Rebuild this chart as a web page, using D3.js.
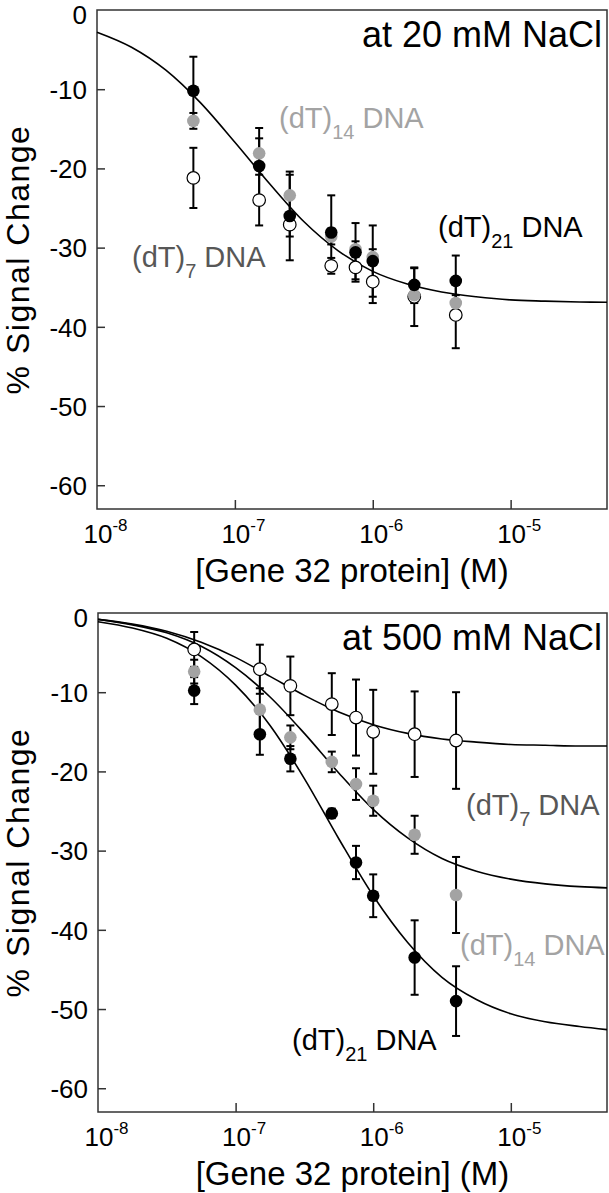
<!DOCTYPE html>
<html><head><meta charset="utf-8">
<script src="https://cdn.jsdelivr.net/npm/d3@7"></script>
<style>body{margin:0;background:#fff} svg text{font-family:"Liberation Sans",Arial,sans-serif}</style>
</head><body>
<script>
// ---------- data ----------
const concentrations = [5e-8, 1.5e-7, 2.5e-7, 5e-7, 7.5e-7, 1e-6, 2e-6, 4e-6];

// 20 mM NaCl
const dT21_20 = [-10.2, -19.7, -26.0, -28.1, -30.6, -31.7, -34.7, -34.2];
const dT21_20_err = [4.3, 4.8, 5.6, 4.7, 3.7, 4.5, 2.1, 3.2];
const dT14_20 = [-14.0, -18.1, -23.4, -28.6, -30.2, -31.2, -36.0, -37.0];
const dT14_20_err = [1.0, 1.9, 2.6, 1.0, 1.0, 1.0, 1.0, 1.0];
const dT7_20 = [-21.2, -24.0, -27.1, -32.3, -32.5, -34.3, -36.2, -38.5];
const dT7_20_err = [3.8, 3.2, 1.5, 1.0, 1.5, 2.7, 3.7, 4.2];

// 500 mM NaCl
const dT21_500 = [-9.8, -15.3, -18.4, -25.3, -31.5, -35.7, -43.5, -49.0];
const dT21_500_err = [1.7, 2.6, 1.6, 0.6, 2.1, 2.7, 4.7, 4.4];
const dT14_500 = [-7.4, -12.2, -15.7, -18.8, -21.6, -23.7, -28.0, -35.6];
const dT14_500_err = [1.5, 2.7, 1.5, 1.3, 2.0, 1.9, 2.4, 4.8];
const dT7_500 = [-4.6, -7.1, -9.2, -11.5, -13.2, -15.0, -15.3, -16.1];
const dT7_500_err = [2.2, 3.1, 3.7, 3.9, 4.8, 5.3, 5.4, 6.1];

// fitted curves
const curveConc = [1e-8, 1.78e-8, 3.16e-8, 5.62e-8, 1e-7, 1.78e-7, 3.16e-7, 5.62e-7, 1e-6, 1.78e-6, 3.16e-6, 5.62e-6, 1e-5, 1.78e-5, 3.16e-5, 5e-5];
const fit20 = [-2.8, -4.7, -7.6, -11.7, -16.7, -21.9, -26.7, -30.4, -33.0, -34.6, -35.6, -36.2, -36.6, -36.75, -36.86, -36.9];
const fit500_dT7 = [-0.8, -1.4, -2.3, -3.7, -5.6, -8.0, -10.4, -12.5, -14.1, -15.2, -15.9, -16.3, -16.6, -16.7, -16.8, -16.8];
const fit500_dT14 = [-0.8, -1.5, -2.5, -4.2, -6.9, -10.6, -15.2, -20.2, -24.8, -28.4, -31.0, -32.6, -33.6, -34.2, -34.55, -34.7];
const fit500_dT21 = [-1.1, -1.9, -3.2, -5.5, -9.1, -14.2, -20.9, -28.5, -35.7, -41.6, -46.0, -48.8, -50.6, -51.6, -52.2, -52.6];

// axes
const xDomain = [1e-8, 5e-5];
const yDomain = [-63, 0];
const xTickVals = [1e-8, 1e-7, 1e-6, 1e-5];
const xTickExps = ["-8", "-7", "-6", "-5"];
const yTickVals = [-60, -50, -40, -30, -20, -10, 0];

const titles = ["at 20 mM NaCl", "at 500 mM NaCl"];
const xTitle = "[Gene 32 protein] (M)";
const yTitle = "% Signal Change";

// ---------- drawing ----------
const W = 609, H = 1193;
const svg = d3.select("body").append("svg").attr("width", W).attr("height", H);

const colBlack = "#000", colGrey = "#a3a3a3", colDark = "#575757", colAxis = "#333";

function panel(cfg) {
  const x = d3.scaleLog().domain(xDomain).range([cfg.left, cfg.right]);
  const y = d3.scaleLinear().domain(yDomain).range([cfg.bottom, cfg.top]);
  const g = svg.append("g");

  // x axis
  const xa = g.append("g").attr("transform", `translate(0,${cfg.bottom})`)
    .call(d3.axisBottom(x).tickValues(xTickVals).tickSizeInner(-9).tickSizeOuter(0).tickFormat(() => ""));
  xa.attr("font-size", null).attr("font-family", null);
  xa.select(".domain").remove();
  xa.selectAll(".tick line").attr("stroke", colAxis).attr("stroke-width", 1.5);
  xa.selectAll(".tick").filter(d => d === 1e-8).select("line").remove();
  xa.selectAll(".tick text").each(function(d, i) {
    const t = d3.select(this);
    t.text(null).attr("y", 34).attr("dy", null).attr("x", -14)
      .attr("text-anchor", "start").attr("font-size", 26).attr("fill", "#000");
    t.append("tspan").text("10");
    t.append("tspan").attr("dy", -12).attr("font-size", 17).text(xTickExps[i]);
  });

  // y axis
  const ya = g.append("g").attr("transform", `translate(${cfg.left},0)`)
    .call(d3.axisLeft(y).tickValues(yTickVals).tickSizeInner(-8).tickSizeOuter(0).tickFormat(d => String(d)));
  ya.attr("font-size", null).attr("font-family", null);
  ya.select(".domain").remove();
  ya.selectAll(".tick line").attr("stroke", colAxis).attr("stroke-width", 1.5);
  ya.selectAll(".tick").filter(d => d === 0).select("line").remove();
  ya.selectAll(".tick text").attr("x", -10).attr("dy", "0.36em").attr("font-size", 26).attr("fill", "#000");
  ya.selectAll(".tick").filter(d => d === 0).select("text").attr("y", 4);

  // frame
  g.append("rect").attr("x", cfg.left).attr("y", cfg.top)
    .attr("width", cfg.right - cfg.left).attr("height", cfg.bottom - cfg.top)
    .attr("fill", "none").attr("stroke", colAxis).attr("stroke-width", 1.5);

  // curves
  const line = d3.line().x(d => x(d[0])).y(d => y(d[1])).curve(d3.curveMonotoneX);
  cfg.curves.forEach(c => {
    g.append("path").attr("d", line(curveConc.map((cc, i) => [cc, c[i]])))
      .attr("fill", "none").attr("stroke", "#000").attr("stroke-width", 1.6);
  });

  // error bars
  cfg.series.forEach(s => {
    s.values.forEach((v, i) => {
      const cx = x(concentrations[i]);
      const e = s.err[i];
      const y1 = y(v + e), y2 = y(v - e);
      g.append("line").attr("x1", cx).attr("x2", cx).attr("y1", y1).attr("y2", y2)
        .attr("stroke", "#000").attr("stroke-width", 2);
      [y1, y2].forEach(yy => g.append("line").attr("x1", cx - 4).attr("x2", cx + 4)
        .attr("y1", yy).attr("y2", yy).attr("stroke", "#000").attr("stroke-width", 2));
    });
  });
  // points
  cfg.series.forEach(s => {
    s.values.forEach((v, i) => {
      g.append("circle").attr("cx", x(concentrations[i])).attr("cy", y(v)).attr("r", 6.3)
        .attr("fill", s.fill).attr("stroke", s.stroke).attr("stroke-width", s.stroke === "none" ? 0 : 1.2);
    });
  });

  // title
  g.append("text").attr("x", 602).attr("y", cfg.top + 37).attr("text-anchor", "end")
    .attr("font-size", 36).attr("fill", "#000").text(cfg.title);

  // axis titles
  g.append("text").attr("x", (cfg.left + cfg.right) / 2).attr("y", cfg.bottom + 73)
    .attr("text-anchor", "middle").attr("font-size", 33).attr("fill", "#000").text(xTitle);
  g.append("text").attr("transform", `translate(29,${(cfg.top + cfg.bottom) / 2}) rotate(-90)`)
    .attr("text-anchor", "middle").attr("font-size", 32).attr("letter-spacing", 1.5)
    .attr("fill", "#000").text(yTitle);

  // series labels
  cfg.labels.forEach(l => {
    const t = g.append("text").attr("x", l.x).attr("y", l.y).attr("font-size", 29).attr("fill", l.color);
    t.append("tspan").text("(dT)");
    t.append("tspan").attr("dy", 11).attr("font-size", 20).text(l.sub);
    t.append("tspan").attr("dy", -11).text(" DNA");
  });
}

panel({
  left: 97, right: 607, top: 10, bottom: 509,
  title: titles[0],
  curves: [fit20],
  series: [
    {values: dT7_20, err: dT7_20_err, fill: "#fff", stroke: "#000"},
    {values: dT14_20, err: dT14_20_err, fill: colGrey, stroke: "none"},
    {values: dT21_20, err: dT21_20_err, fill: colBlack, stroke: "none"}
  ],
  labels: [
    {x: 279, y: 128, sub: "14", color: colGrey},
    {x: 132, y: 267, sub: "7", color: colDark},
    {x: 438, y: 237, sub: "21", color: colBlack}
  ]
});

panel({
  left: 98, right: 607, top: 613, bottom: 1112,
  title: titles[1],
  curves: [fit500_dT7, fit500_dT14, fit500_dT21],
  series: [
    {values: dT7_500, err: dT7_500_err, fill: "#fff", stroke: "#000"},
    {values: dT14_500, err: dT14_500_err, fill: colGrey, stroke: "none"},
    {values: dT21_500, err: dT21_500_err, fill: colBlack, stroke: "none"}
  ],
  labels: [
    {x: 466, y: 815, sub: "7", color: colDark},
    {x: 460, y: 955, sub: "14", color: colGrey},
    {x: 292, y: 1050, sub: "21", color: colBlack}
  ]
});
</script>
</body></html>
